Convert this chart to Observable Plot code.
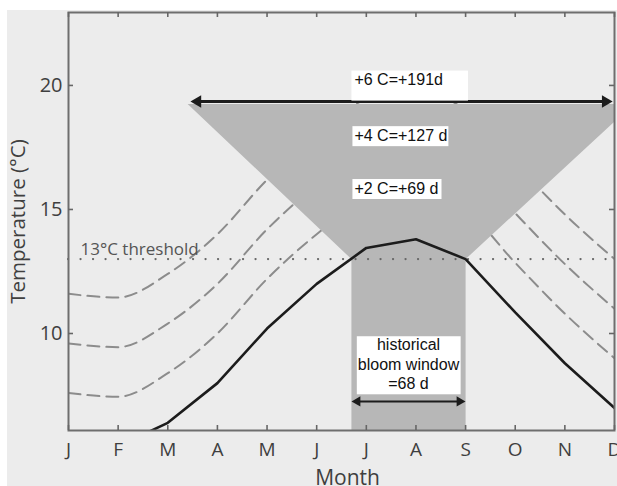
<!DOCTYPE html>
<html><head><meta charset="utf-8">
<script src="https://cdn.jsdelivr.net/npm/d3@7"></script>
<script src="https://cdn.jsdelivr.net/npm/@observablehq/plot@0.6"></script>
<style>
html,body{margin:0;padding:0;background:#fff;overflow:hidden;}
#chart{position:absolute;left:7px;top:10px;}
</style></head><body><div id="chart"></div>
<script>
// ---- data ----
const monthLabels = ["J","F","M","A","M","J","J","A","S","O","N","D"];
const monthNumbers = [1,2,3,4,5,6,7,8,9,10,11,12];
const historicalTemp = [5.6, 5.45, 6.4, 8.0, 10.2, 12.0, 13.45, 13.8, 13.0, 10.85, 8.8, 7.0];
const warmingSteps = [2, 4, 6];
const warmingLabels = ["+2 C=+69 d", "+4 C=+127 d", "+6 C=+191d"];
const warmingLabelTemp = [15.83, 17.96, 20.24];
const yTicks = [10, 15, 20];
const thresholdTemp = 13;
const bloomWindow = [6.7, 9.0];          // months (start, end of historical window)
const windowTopTemp = 19.25;             // top of warmed bloom-window wedge
const windowTopMonths = [3.4, 12.38];    // wedge extent at its top
const arrowTemp = 19.35;
const arrowMonths = [3.46, 11.96];
const bloomArrowTemp = 7.26;
const bloomLabel = "historical\nbloom window\n=68 d";
const bloomLabelTemp = 8.79;

// ---- layout ----
const W = 610, H = 476;
const M = {left: 61, right: 3, top: 2, bottom: 56};
const plotW = W - M.left - M.right;
const plotH = H - M.top - M.bottom;
const yDomain = [6.09, 22.94];
const tickLen = 5;

const hist = monthNumbers.map((m, i) => ({month: m, temp: historicalTemp[i]}));
const warmed = warmingSteps.flatMap(dT => monthNumbers.map((m, i) => ({month: m, temp: historicalTemp[i] + dT, dT})));
const wedge = [
  {month: windowTopMonths[0], temp: windowTopTemp},
  {month: windowTopMonths[1], temp: windowTopTemp},
  {month: bloomWindow[1], temp: thresholdTemp},
  {month: bloomWindow[1], temp: yDomain[0] - 1},
  {month: bloomWindow[0], temp: yDomain[0] - 1},
  {month: bloomWindow[0], temp: thresholdTemp}
];
const warmLabelRows = warmingSteps.map((dT, i) => ({text: warmingLabels[i], temp: warmingLabelTemp[i]}));

const axisFont = "'Open Sans', 'DejaVu Sans', sans-serif";
const labelFont = "'Liberation Sans', Arial, sans-serif";

const svg = Plot.plot({
  width: W, height: H,
  marginLeft: M.left, marginRight: M.right, marginTop: M.top, marginBottom: M.bottom,
  style: {background: "#ececec", fontFamily: axisFont, overflow: "visible"},
  x: {domain: [1, 12]},
  y: {domain: yDomain},
  marks: [
    Plot.line(warmed, {x: "month", y: "temp", z: "dT", stroke: "#8c8c8c", strokeWidth: 2, strokeDasharray: "12,7", curve: "monotone-x", clip: true}),
    Plot.line(wedge, {x: "month", y: "temp", fill: "#b7b7b7", stroke: "none", curve: "linear-closed", clip: true}),
    Plot.ruleY([thresholdTemp], {stroke: "#666", strokeWidth: 2.2, strokeDasharray: "0.1,12.4", strokeLinecap: "round"}),
    Plot.text(["13°C threshold"], {x: 1, y: thresholdTemp, text: d => d, textAnchor: "start", lineAnchor: "bottom", dx: 12, dy: -4, fontSize: 17, fill: "#555"}),
    Plot.line(hist, {x: "month", y: "temp", stroke: "#1c1c1c", strokeWidth: 2.6, clip: true}),
    // top double arrow
    Plot.ruleY([arrowTemp], {x1: arrowMonths[0], x2: arrowMonths[1], stroke: "#1c1c1c", strokeWidth: 3, insetLeft: 6, insetRight: 6}),
    Plot.dot([arrowMonths[1]], {x: d => d, y: arrowTemp, symbol: "triangle", r: 4.6, rotate: 90, dx: -7, fill: "#1c1c1c", stroke: "none"}),
    Plot.dot([arrowMonths[0]], {x: d => d, y: arrowTemp, symbol: "triangle", r: 4.6, rotate: -90, dx: 7, fill: "#1c1c1c", stroke: "none"}),
    // bloom window arrow
    Plot.ruleY([bloomArrowTemp], {x1: bloomWindow[0], x2: bloomWindow[1], stroke: "#1c1c1c", strokeWidth: 2.2, insetLeft: 5, insetRight: 5}),
    Plot.dot([bloomWindow[1]], {x: d => d, y: bloomArrowTemp, symbol: "triangle", r: 3.8, rotate: 90, dx: -6, fill: "#1c1c1c", stroke: "none"}),
    Plot.dot([bloomWindow[0]], {x: d => d, y: bloomArrowTemp, symbol: "triangle", r: 3.8, rotate: -90, dx: 6, fill: "#1c1c1c", stroke: "none"}),
    // labels (white boxes added afterwards)
    Plot.text(warmLabelRows, {x: bloomWindow[0], y: "temp", text: "text", textAnchor: "start", dx: 3, fontSize: 16, fontFamily: labelFont, fill: "#111"}),
    Plot.text([bloomLabel], {x: (bloomWindow[0] + bloomWindow[1]) / 2, y: bloomLabelTemp, text: d => d, fontSize: 16, lineHeight: 1.22, fontFamily: labelFont, fill: "#111"}),
    // frame and inward ticks
    Plot.frame({stroke: "#6e6e6e", strokeWidth: 2}),
    Plot.tickX(monthNumbers, {x: d => d, insetTop: plotH - tickLen, stroke: "#666", strokeWidth: 1.6}),
    Plot.tickX(monthNumbers, {x: d => d, insetBottom: plotH - tickLen, stroke: "#666", strokeWidth: 1.6}),
    Plot.tickY(yTicks, {y: d => d, insetRight: plotW - tickLen, stroke: "#666", strokeWidth: 1.6}),
    Plot.tickY(yTicks, {y: d => d, insetLeft: plotW - tickLen, stroke: "#666", strokeWidth: 1.6}),
    Plot.axisX(monthNumbers, {tickFormat: d => monthLabels[d - 1], tickSize: 0, tickPadding: 12, fontSize: 19, fill: "#3f3f3f", label: null}),
    Plot.axisY(yTicks, {tickSize: 0, tickPadding: 6, fontSize: 20, fill: "#3f3f3f", label: null}),
    Plot.text(["Temperature (°C)"], {x: 1, y: (yDomain[0] + yDomain[1]) / 2, text: d => d, rotate: -90, dx: -50, fontSize: 20.5, fill: "#3f3f3f", clip: false}),
    Plot.text(["Month"], {frameAnchor: "bottom", text: d => d, lineAnchor: "top", dx: 6, dy: 40, fontSize: 21, fill: "#3f3f3f"})
  ]
});
document.getElementById("chart").appendChild(svg);

// white boxes behind the annotation labels: [left, top, right, bottom] padding in px
const boxPads = {
  "+2 C=+69 d": [2, 1, 3, 2],
  "+4 C=+127 d": [2, 1, 1, 2],
  "+6 C=+191d": [3, 0, 25, 13],
  "historicalbloom window=68 d": [1, 0, 1, 2]
};
const sr = svg.getBoundingClientRect();
svg.querySelectorAll("text").forEach(t => {
  const p = boxPads[t.textContent];
  if (!p) return;
  const b = t.getBoundingClientRect();
  const g = t.parentNode;
  const r = document.createElementNS("http://www.w3.org/2000/svg", "rect");
  r.setAttribute("x", b.left - sr.left - p[0]);
  r.setAttribute("y", b.top - sr.top - p[1]);
  r.setAttribute("width", b.width + p[0] + p[2]);
  r.setAttribute("height", b.height + p[1] + p[3]);
  r.setAttribute("fill", "#fff");
  g.parentNode.insertBefore(r, g);
});
</script></body></html>
